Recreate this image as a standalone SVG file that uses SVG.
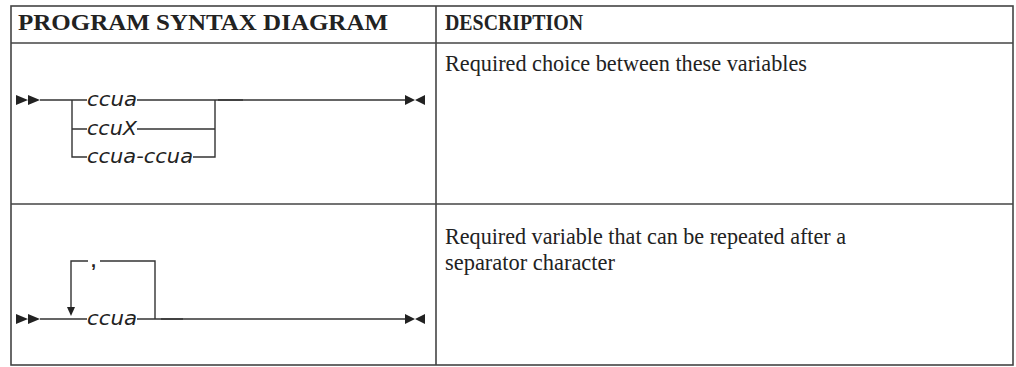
<svg xmlns="http://www.w3.org/2000/svg" width="1016" height="367" viewBox="0 0 1016 367">
<style>
.hdr{font-family:"Liberation Serif",serif;font-weight:bold;font-size:24px;fill:#222}
.desc{font-family:"Liberation Serif",serif;font-size:23px;fill:#222}
.var{font-family:"DejaVu Sans","Liberation Sans",sans-serif;font-style:italic;font-size:19px;fill:#222}
.ln{stroke:#333;stroke-width:1.4;fill:none}
.grid{stroke:#444;stroke-width:1.6;fill:none}
.tri{fill:#222}
</style>
<rect width="1016" height="367" fill="#fff"/>
<g id="table">
<rect class="grid" x="11" y="6" width="1002" height="359" stroke-width="2"/>
<line class="grid" x1="11" y1="43" x2="1013" y2="43"/>
<line class="grid" x1="11" y1="204" x2="1013" y2="204"/>
<line class="grid" x1="436" y1="6" x2="436" y2="365" stroke-width="1.3"/>
<text class="hdr" x="18" y="30" textLength="370" lengthAdjust="spacingAndGlyphs">PROGRAM SYNTAX DIAGRAM</text>
<text class="hdr" x="445" y="30" textLength="138" lengthAdjust="spacingAndGlyphs">DESCRIPTION</text>
</g>
<g id="desc1">
<text class="desc" x="445" y="71" textLength="362" lengthAdjust="spacingAndGlyphs">Required choice between these variables</text>
</g>
<g id="desc2">
<text class="desc" x="445" y="244" textLength="401" lengthAdjust="spacingAndGlyphs">Required variable that can be repeated after a</text>
<text class="desc" x="445" y="270" textLength="170" lengthAdjust="spacingAndGlyphs">separator character</text>
</g>
<g id="diagram1">
<path class="tri" d="M16,95 L28,100 L16,105 Z M28,95 L40,100 L28,105 Z"/>
<path class="tri" d="M405,95 L415,100 L405,105 Z M425,95 L415,100 L425,105 Z"/>
<text class="var" x="87" y="106" textLength="50" lengthAdjust="spacingAndGlyphs">ccua</text>
<text class="var" x="87" y="135" textLength="50" lengthAdjust="spacingAndGlyphs">ccuX</text>
<text class="var" x="87" y="163" textLength="106" lengthAdjust="spacingAndGlyphs">ccua-ccua</text>
</g>
<g id="diagram2">
<path class="tri" d="M16,314 L28,319 L16,324 Z M28,314 L40,319 L28,324 Z"/>
<path class="tri" d="M405,314 L415,319 L405,324 Z M425,314 L415,319 L425,324 Z"/>
<path class="tri" d="M67,307 L75,307 L71,316 Z"/>
<text class="var" x="87" y="325" textLength="50" lengthAdjust="spacingAndGlyphs">ccua</text>
<text x="91" y="267" font-family="Liberation Sans,sans-serif" font-weight="bold" font-size="18" fill="#222">,</text>
</g>
<g id="connectors">
<path class="ln" d="M40,100 H87 M137,100 H405 M72,100 V157 H87 M72,129 H87 M137,129 H215 M193,157 H215 V100"/>
<path class="ln" d="M218,100 H243" stroke-width="2.2" stroke="#222"/>
<path class="ln" d="M40,319 H87 M137,319 H405 M155,319 V261 H100 M88,261 H71 V307"/>
<path class="ln" d="M161,319 H183" stroke-width="2" stroke="#555"/>
</g>
</svg>
